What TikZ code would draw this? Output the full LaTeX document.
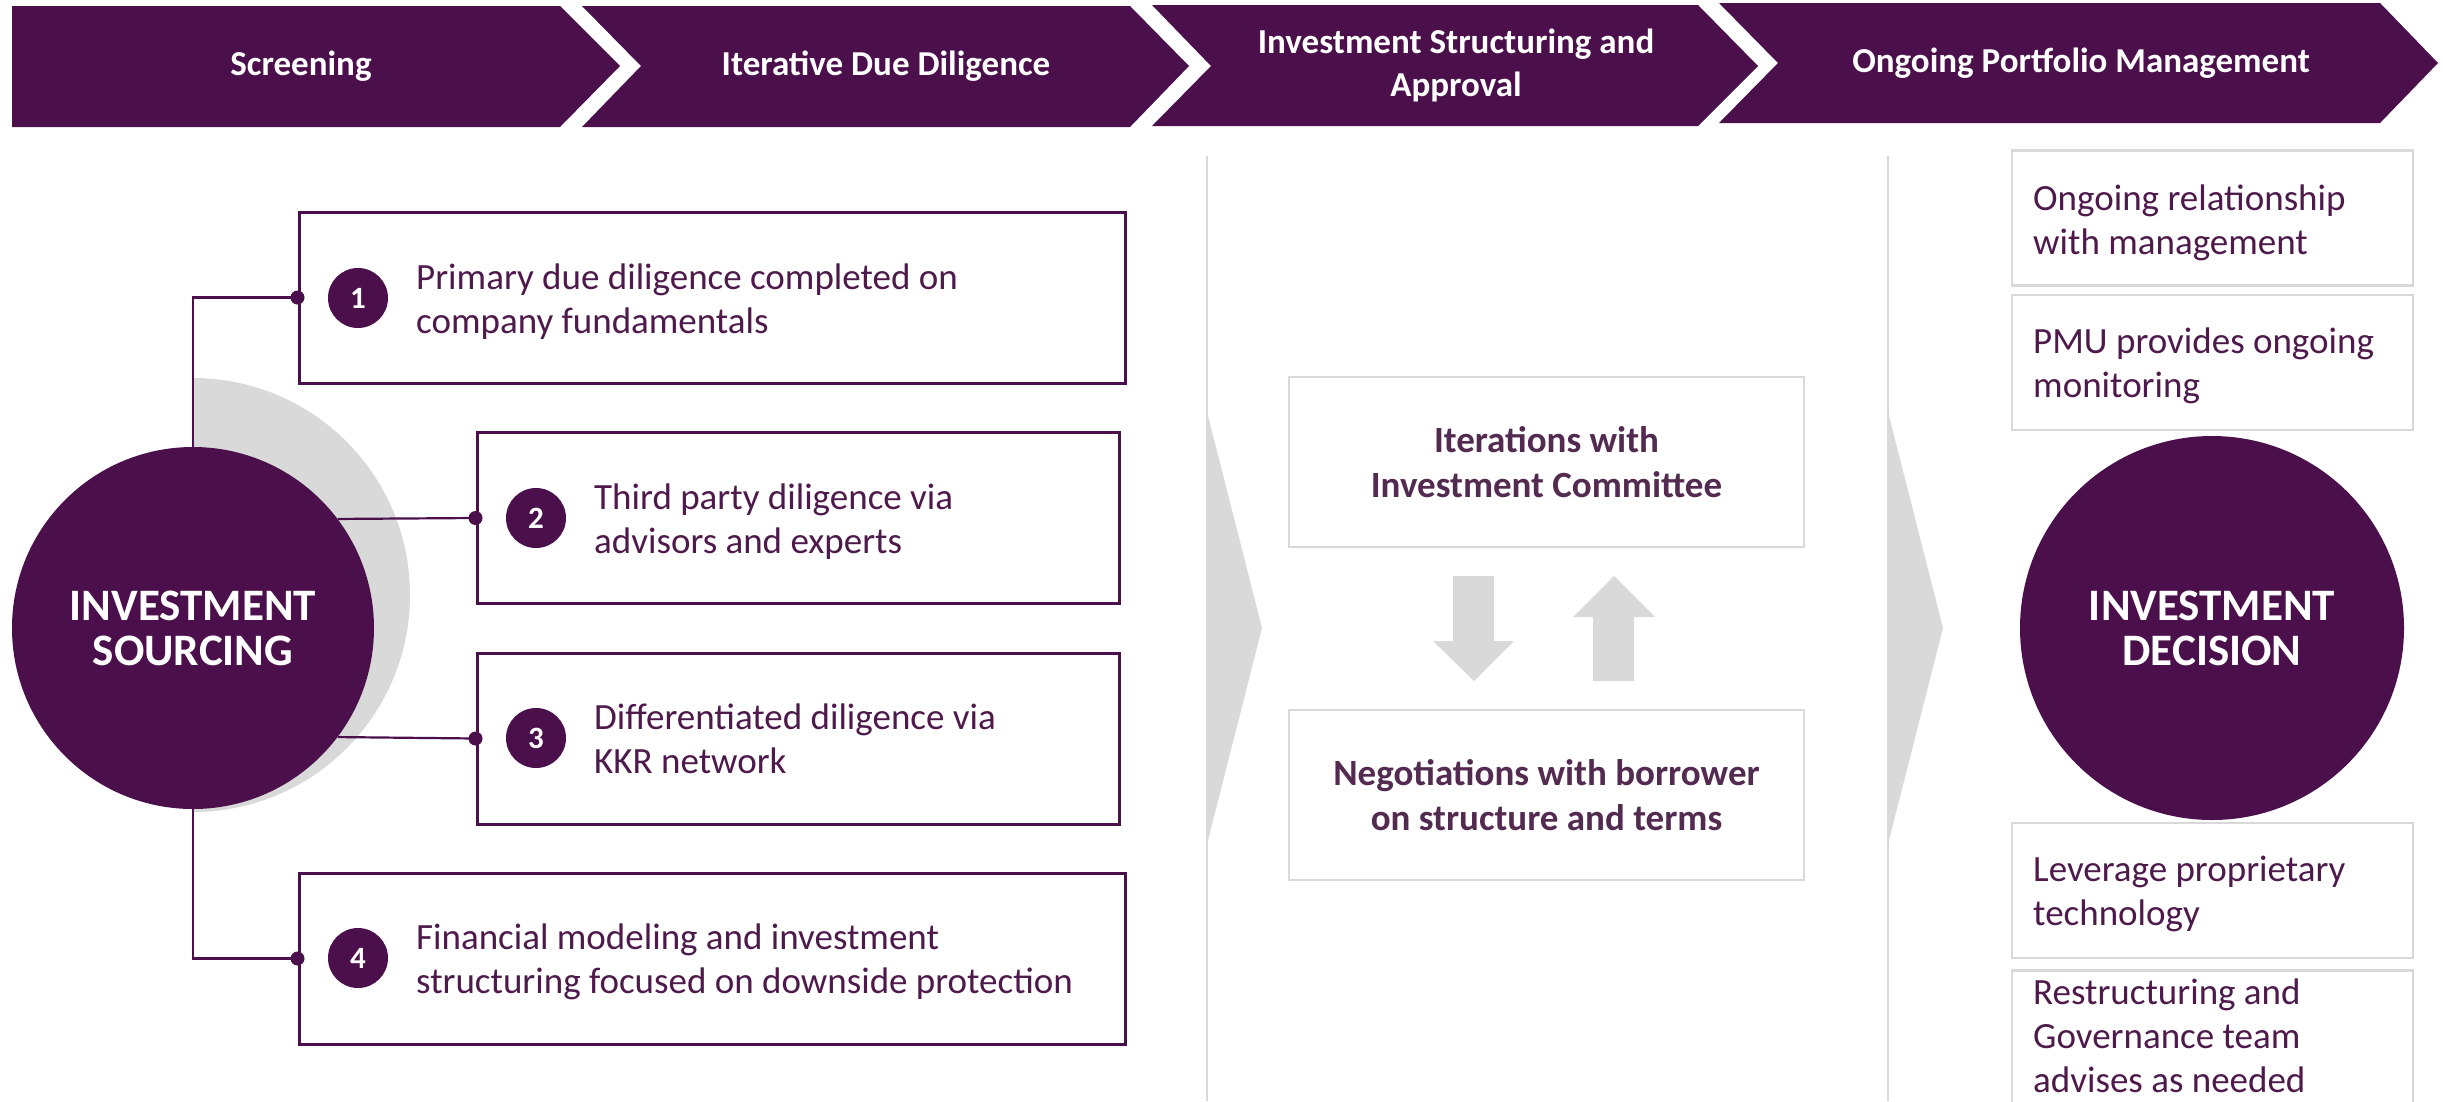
\documentclass[tikz,border=0pt]{standalone}
\usepackage{fontspec}
\setmainfont{Carlito}
\usetikzlibrary{calc}
\definecolor{kp}{HTML}{4B104B}
\definecolor{kt}{HTML}{4E1A4C}
\definecolor{km}{HTML}{532B50}
\definecolor{kg}{HTML}{D9D9D9}
\begin{document}
\begin{tikzpicture}[x=1pt,y=-1pt,
  hdrshape/.style={fill=kp},
  hdrtext/.style={text=white, align=center, inner sep=0pt, font=\fontsize{35}{43}\selectfont\bfseries},
  stepbox/.style={draw=kp, line width=3pt, fill=white, minimum height=171pt, inner sep=0pt},
  numdot/.style={circle, fill=kp, text=white, minimum size=60pt, inner sep=0pt, font=\fontsize{31}{31}\selectfont\bfseries},
  boxtext/.style={text=kt, align=left, anchor=base west, inner sep=0pt, font=\fontsize{37}{44}\selectfont},
  midbox/.style={draw=kg, line width=2.5pt, fill=white, minimum width=515pt, minimum height=170pt, inner sep=0pt},
  midtext/.style={text=km, align=center, anchor=base, inner sep=0pt, font=\fontsize{37}{45}\selectfont\bfseries},
  sidebox/.style={draw=kg, line width=2.5pt, fill=white, minimum width=401pt, minimum height=135pt, inner sep=0pt},
  bigcircle/.style={circle, fill=kp, text=white, inner sep=0pt, align=center, font=\fontsize{45}{45}\selectfont\bfseries},
  conn/.style={draw=kp, line width=2.2pt},
  sep/.style={draw=kg, line width=2.5pt},
  grayshape/.style={fill=kg}
]
\useasboundingbox (0,0) rectangle (2443,1101);
\fill[white] (0,0) rectangle (2443,1101);

% header chevrons
\fill[hdrshape] (12,6) -- (560,6) -- (620,66) -- (560,127) -- (12,127) -- cycle;
\fill[hdrshape] (582,6) -- (1130,6) -- (1189,66) -- (1130,127) -- (582,127) -- (641,66) -- cycle;
\fill[hdrshape] (1152,5) -- (1698,5) -- (1758,66) -- (1698,126) -- (1152,126) -- (1211,66) -- cycle;
\fill[hdrshape] (1719,3) -- (2380,3) -- (2438,63) -- (2380,123) -- (1719,123) -- (1778,63) -- cycle;
\node[hdrtext] (h1) at (301,66) {Screening};
\node[hdrtext] (h2) at (886,66) {Iterative Due Diligence};
\node[hdrtext] (h3) at (1456,65) {Investment Structuring and\\Approval};
\node[hdrtext] (h4) at (2081,63) {Ongoing Portfolio Management};

% separators and gray pointers
\draw[sep] (1207,156) -- (1207,1101);
\draw[sep] (1888,156) -- (1888,1101);
\fill[grayshape] (1207,412) -- (1262,628) -- (1207,844) -- cycle;
\fill[grayshape] (1888,412) -- (1943,628) -- (1888,844) -- cycle;

% left: investment sourcing
\fill[grayshape] (193,378) arc[start angle=-90, end angle=90, radius=217];
\node[bigcircle, minimum size=362pt] (src) at (193,628) {INVESTMENT\\SOURCING};

\node[stepbox, minimum width=826pt] (b1) at (712,297.5) {};
\node[stepbox, minimum width=642pt] (b2) at (798,518) {};
\node[stepbox, minimum width=642pt] (b3) at (798,738.5) {};
\node[stepbox, minimum width=826pt] (b4) at (712,958.5) {};

\draw[conn] (b1.west) -| (src.north);
\draw[conn] (src.37.4) -- (b2.west);
\draw[conn] (src.-37.4) -- (b3.west);
\draw[conn] (src.south) |- (b4.west);
\foreach \b in {b1,b2,b3,b4} \fill[kp] (\b.west) circle[radius=7];

\node[numdot] (n1) at (358,298) {1};
\node[numdot] (n2) at (536,518) {2};
\node[numdot] (n3) at (536,738) {3};
\node[numdot] (n4) at (358,958) {4};

\node[boxtext] (t1) at (416,333) {Primary due diligence completed on\\company fundamentals};
\node[boxtext] (t2) at (594,553) {Third party diligence via\\advisors and experts};
\node[boxtext] (t3) at (594,773) {Differentiated diligence via\\KKR network};
\node[boxtext] (t4) at (416,993) {Financial modeling and investment\\structuring focused on downside protection};

% middle
\node[midbox] (m1) at (1546.5,462) {};
\node[midbox] (m2) at (1546.5,795) {};
\node[midtext] (mt1) at (1546.5,497) {Iterations with\\Investment Committee};
\node[midtext] (mt2) at (1546.5,830) {Negotiations with borrower\\on structure and terms};
\fill[grayshape] (1453,576) -- (1494,576) -- (1494,641) -- (1514,641) -- (1474,681) -- (1433,641) -- (1453,641) -- cycle;
\fill[grayshape] (1614,576) -- (1655,617) -- (1634,617) -- (1634,681) -- (1593,681) -- (1593,617) -- (1573,617) -- cycle;

% right
\node[sidebox] (r1) at (2212.5,218) {};
\node[sidebox] (r2) at (2212.5,362.5) {};
\node[bigcircle, minimum size=384pt] (dec) at (2212,628) {INVESTMENT\\DECISION};
\node[sidebox] (r3) at (2212.5,890.5) {};
\node[sidebox] (r4) at (2212.5,1038) {};
\node[boxtext] (rt1) at (2033,254) {Ongoing relationship\\with management};
\node[boxtext] (rt2) at (2033,397) {PMU provides ongoing\\monitoring};
\node[boxtext] (rt3) at (2033,925) {Leverage proprietary\\technology};
\node[boxtext] (rt4) at (2033,1092) {Restructuring and\\Governance team\\advises as needed};
\end{tikzpicture}
\end{document}
